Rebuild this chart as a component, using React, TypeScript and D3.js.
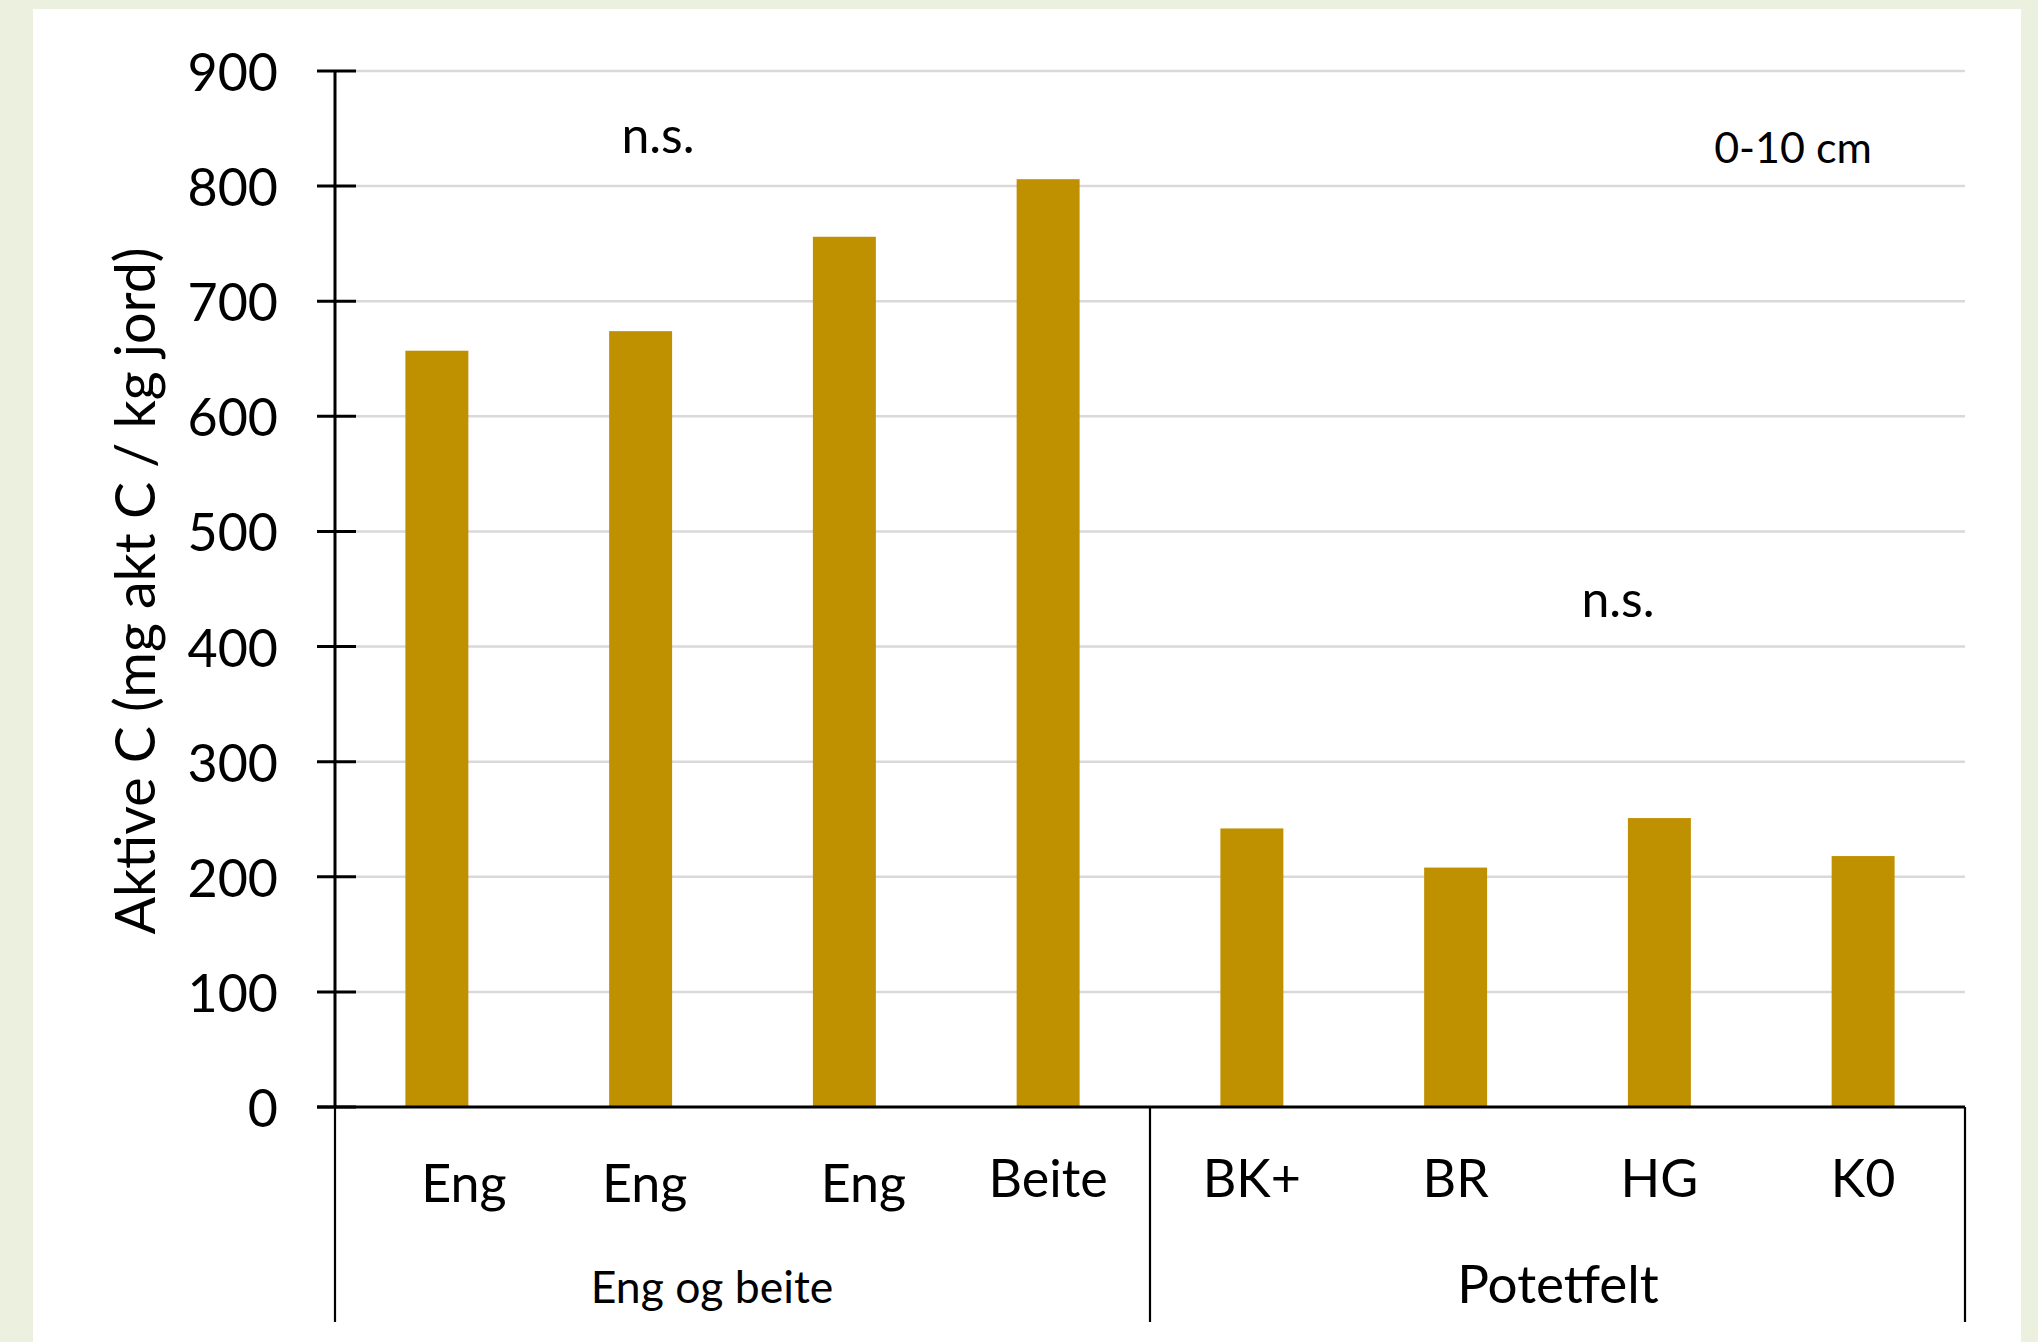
import React from "react";
import * as d3 from "d3";

// Active carbon, 0-10 cm depth
const categories = ["Eng", "Eng", "Eng", "Beite", "BK+", "BR", "HG", "K0"];
const values = [657, 674, 756, 806, 242, 208, 251, 218];
const groups = [
  { name: "Eng og beite", start: 0, end: 4 },
  { name: "Potetfelt", start: 4, end: 8 },
];
const yTicks = [0, 100, 200, 300, 400, 500, 600, 700, 800, 900];
const yTitle = "Aktive C (mg akt C / kg jord)";
const sigLabels = [
  { text: "n.s.", group: 0 },
  { text: "n.s.", group: 1 },
];
const depthLabel = "0-10 cm";

const W = 2038;
const H = 1342;
const FONT = "Lato, 'Open Sans', sans-serif";
const BAR = "#BF9000";

// layout
const plot = { left: 335, right: 1965, top: 71, bottom: 1107 };
const catLineBottom = 1322;
// small horizontal / vertical nudges of individual category labels
const labelNudge = [
  { dx: 27, dy: 5 },
  { dx: 4, dy: 5 },
  { dx: 19, dy: 5 },
  { dx: 0, dy: 0 },
  { dx: 0, dy: 0 },
  { dx: 0, dy: 0 },
  { dx: 0, dy: 0 },
  { dx: 0, dy: 0 },
];

export default function App() {
  const x = d3
    .scaleBand<number>()
    .domain(d3.range(categories.length))
    .range([plot.left, plot.right])
    .paddingInner(0.691)
    .paddingOuter(0.3455);
  const y = d3.scaleLinear().domain([0, 900]).range([plot.bottom, plot.top]);
  const step = x.step();
  const edge = (i: number) => plot.left + i * step;

  return (
    <svg
      width={W}
      height={H}
      style={{ position: "absolute", left: 0, top: 0, display: "block" }}
      fontFamily={FONT}
    >
      <rect x={0} y={0} width={W} height={H} fill="#EBF0DF" />
      <rect x={33} y={9} width={1988} height={H - 9} fill="#FFFFFF" />

      {/* gridlines */}
      {yTicks
        .filter((t) => t > 0)
        .map((t) => (
          <line
            key={"g" + t}
            x1={plot.left + 20}
            x2={plot.right}
            y1={y(t)}
            y2={y(t)}
            stroke="#D9D9D9"
            strokeWidth={2.5}
          />
        ))}

      {/* bars */}
      {values.map((v, i) => (
        <rect
          key={"b" + i}
          x={x(i)}
          y={y(v)}
          width={x.bandwidth()}
          height={y(0) - y(v)}
          fill={BAR}
        />
      ))}

      {/* y axis */}
      <line x1={plot.left} x2={plot.left} y1={plot.top} y2={plot.bottom} stroke="#000" strokeWidth={3} />
      {yTicks.map((t) => (
        <g key={"t" + t}>
          <line x1={plot.left - 18} x2={plot.left + 21} y1={y(t)} y2={y(t)} stroke="#000" strokeWidth={3} />
          <text
            x={278}
            y={y(t)}
            textAnchor="end"
            dominantBaseline="central"
            fontSize={52}
            fill="#000"
          >
            {t}
          </text>
        </g>
      ))}

      {/* x axis and category dividers */}
      <line x1={plot.left - 18} x2={plot.right} y1={plot.bottom} y2={plot.bottom} stroke="#000" strokeWidth={3} />
      {[0, 4, 8].map((i) => (
        <line
          key={"d" + i}
          x1={edge(i)}
          x2={edge(i)}
          y1={plot.bottom}
          y2={catLineBottom}
          stroke="#000"
          strokeWidth={2.2}
        />
      ))}

      {/* category labels */}
      {categories.map((c, i) => (
        <text
          key={"c" + i}
          x={(x(i) as number) + x.bandwidth() / 2 + labelNudge[i].dx}
          y={1197 + labelNudge[i].dy}
          textAnchor="middle"
          fontSize={52}
          fill="#000"
        >
          {c}
        </text>
      ))}

      {/* group labels */}
      {groups.map((g, gi) => (
        <text
          key={"gr" + gi}
          x={gi === 0 ? 712 : 1558}
          y={1303}
          textAnchor="middle"
          fontSize={gi === 0 ? 44.5 : 53}
          fill="#000"
        >
          {g.name}
        </text>
      ))}

      {/* significance notes */}
      {sigLabels.map((s, i) => (
        <text
          key={"s" + i}
          x={s.group === 0 ? 658 : 1618}
          y={s.group === 0 ? 153 : 617}
          textAnchor="middle"
          fontSize={50}
          fill="#000"
        >
          {s.text}
        </text>
      ))}

      <text x={1793} y={163} textAnchor="middle" fontSize={43} fill="#000">
        {depthLabel}
      </text>

      {/* y axis title */}
      <text
        transform={`translate(155, 591) rotate(-90)`}
        textAnchor="middle"
        fontSize={55.5}
        fill="#000"
      >
        {yTitle}
      </text>
    </svg>
  );
}
